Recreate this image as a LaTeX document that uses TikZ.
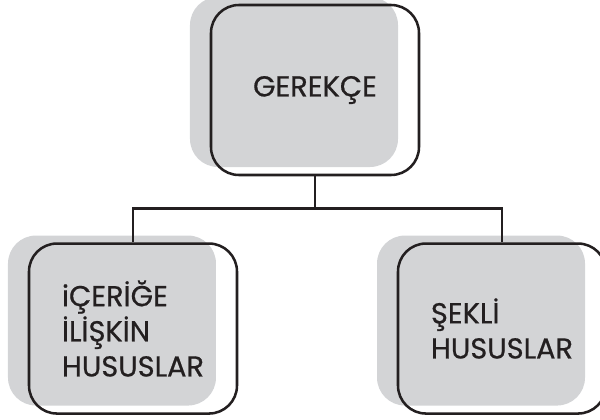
\documentclass[tikz,border=0pt]{standalone}
\usepackage{fontspec}
\setmainfont{Poppins}[FakeBold=0.6]
\usepackage{tikz}
\usetikzlibrary{positioning, shadows}
\definecolor{boxgray}{RGB}{211,212,214}
\definecolor{inkgray}{RGB}{35,31,32}
\tikzstyle{wire}=[line width=1.8pt, draw=inkgray]
\tikzstyle{topic}=[rectangle, draw=inkgray, text=inkgray, line width=1.8pt, rounded corners=7mm, minimum width=52mm, minimum height=42.5mm, align=left, font=\fontsize{20.5}{25}\selectfont, general shadow={fill=boxgray, shadow xshift=-5.25mm, shadow yshift=2mm}]

\begin{document}
\begin{tikzpicture}[x=0.25mm, y=-0.25mm, node distance=16.5mm]
    \useasboundingbox (0,0) rectangle (600,420);
    % Draw the blocks
    \node[topic](gerekce) at (315,90) {GEREKÇE};
    \node[topic, below = of gerekce, xshift=-45.5mm](icerik){iÇERİĞE \\ İLİŞKİN \\ HUSUSLAR};
    \node[topic, below = of gerekce, xshift=46.75mm](sekli){ŞEKLİ \\ HUSUSLAR};

    % Connect the blocks
    \draw[wire] (gerekce.south) -- ++(0,32) coordinate (bus);
    \draw[wire] (icerik.north) |- (bus) -| (sekli.north);
\end{tikzpicture}
\end{document}
